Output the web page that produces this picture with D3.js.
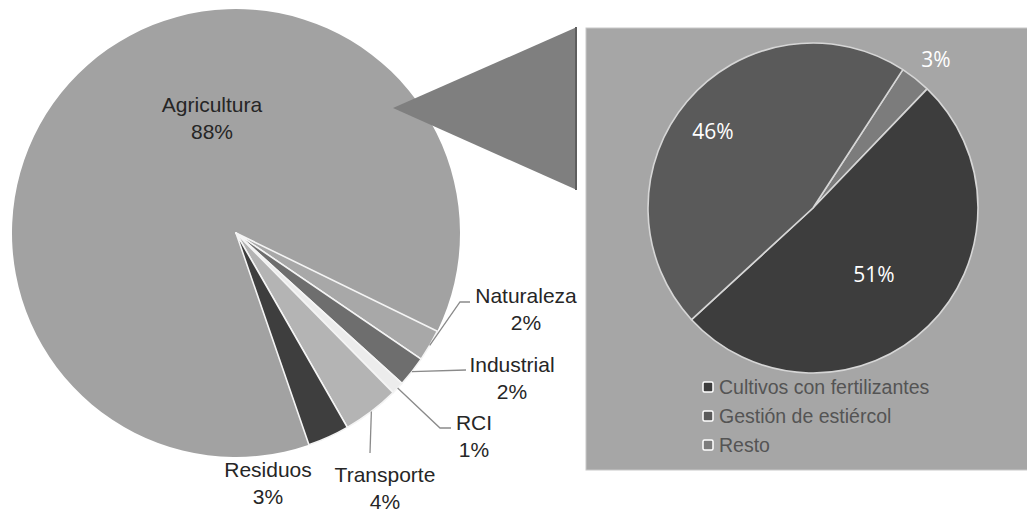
<!DOCTYPE html>
<html>
<meta charset="utf-8">
<title>Pie of pie</title>
<style>
html, body { margin: 0; background: #fff; }
svg { display: block; }
</style>
<svg></svg>
<script src="https://d3js.org/d3.v7.min.js"></script>
<script>

// main pie (share of emissions, %)
var sectors = ["Agricultura", "Naturaleza", "Industrial", "RCI", "Transporte", "Residuos"];
var sectorValues = [87.5, 2.3, 2.2, 0.9, 4.1, 3.0];
var sectorColors = ["#a2a2a2", "#a8a8a8", "#6e6e6e", "#ececec", "#b4b4b4", "#3e3e3e"];

// breakdown of agriculture
var agriParts = ["Resto", "Cultivos con fertilizantes", "Gestión de estiércol"];
var agriValues = [3, 51, 46];
var agriColors = ["#7c7c7c", "#3d3d3d", "#5a5a5a"];
var legendOrder = ["Cultivos con fertilizantes", "Gestión de estiércol", "Resto"];

var width = 1027, height = 513;
var svg = d3.select("svg").attr("width", width).attr("height", height);
var pct = d3.format(".0%");
var rad = function(a) { return a * Math.PI / 180; };

// ---- big pie
var cx = 236, cy = 233, r = 224;
var pie = d3.pie().sort(null).value(function(d) { return d.value; })
    .startAngle(rad(161)).endAngle(rad(161 + 360));
var data = sectors.map(function(s, i) { return {name: s, value: sectorValues[i], color: sectorColors[i]}; });
var arcs = pie(data);
var arc = d3.arc().innerRadius(0).outerRadius(r);

var g = svg.append("g").attr("transform", "translate(" + cx + "," + cy + ")");
g.selectAll("path.slice")
  .data(arcs)
  .enter().append("path")
    .attr("class", "slice")
    .attr("d", arc)
    .attr("fill", function(d) { return d.data.color; })
    .attr("stroke", function(d) { return d.index == 0 ? "none" : "#f4f4f4"; })
    .attr("stroke-width", 1.6)
    .attr("stroke-linejoin", "round");

// label positions, leader lines for small slices
var labelPos = {
  "Agricultura": {x: 212, y: 112},
  "Naturaleza": {x: 526, y: 303},
  "Industrial": {x: 512, y: 372},
  "RCI": {x: 474, y: 430},
  "Transporte": {x: 385, y: 482},
  "Residuos": {x: 268, y: 477}
};
var leaders = {
  "Naturaleza": [[460, 302], [470, 302]],
  "Industrial": [[466, 370]],
  "RCI": [[440, 428], [451, 428]],
  "Transporte": [[370, 453]]
};

arcs.forEach(function(d) {
  var L = leaders[d.data.name];
  if (!L) return;
  var a = (d.startAngle + d.endAngle) / 2;
  var pts = [[cx + r * Math.sin(a), cy - r * Math.cos(a)]].concat(L);
  svg.append("path")
    .attr("d", d3.line()(pts))
    .attr("fill", "none")
    .attr("stroke", "#8a8a8a")
    .attr("stroke-width", 1.3);
});

arcs.forEach(function(d) {
  var p = labelPos[d.data.name];
  var t = svg.append("text")
    .attr("x", p.x).attr("y", p.y)
    .attr("text-anchor", "middle")
    .attr("font-family", "Liberation Sans, Arial, sans-serif")
    .attr("font-size", 21)
    .attr("fill", "#262626");
  t.append("tspan").attr("x", p.x).text(d.data.name);
  t.append("tspan").attr("x", p.x).attr("dy", 27).text(pct(d.data.value / 100));
});

// ---- connector wedge
svg.append("path")
  .attr("d", d3.line()([[393, 108], [577, 27], [577, 190]]) + "Z")
  .attr("fill", "#7f7f7f");
svg.append("line")
  .attr("x1", 576).attr("x2", 576).attr("y1", 27).attr("y2", 190)
  .attr("stroke", "#5e5e5e").attr("stroke-width", 2);

// ---- second panel
svg.append("rect")
  .attr("x", 586).attr("y", 28).attr("width", 450).attr("height", 442)
  .attr("fill", "#a6a6a6")
  .attr("stroke", "#c8c8c8").attr("stroke-width", 1);

var cx2 = 813, cy2 = 208, r2 = 165;
var pie2 = d3.pie().sort(null).value(function(d) { return d.value; })
    .startAngle(rad(33)).endAngle(rad(33 + 360));
var data2 = agriParts.map(function(s, i) { return {name: s, value: agriValues[i], color: agriColors[i]}; });
var arcs2 = pie2(data2);
var arc2 = d3.arc().innerRadius(0).outerRadius(r2);

var g2 = svg.append("g").attr("transform", "translate(" + cx2 + "," + cy2 + ")");
g2.selectAll("path")
  .data(arcs2)
  .enter().append("path")
    .attr("d", arc2)
    .attr("fill", function(d) { return d.data.color; })
    .attr("stroke", "#d6d6d6")
    .attr("stroke-width", 1.6)
    .attr("stroke-linejoin", "round");

var label2 = {
  "Resto": [936, 67],
  "Cultivos con fertilizantes": [874, 282],
  "Gestión de estiércol": [713, 139]
};
arcs2.forEach(function(d) {
  var p = label2[d.data.name];
  svg.append("text")
    .attr("x", p[0]).attr("y", p[1])
    .attr("text-anchor", "middle")
    .attr("font-family", "Open Sans, DejaVu Sans, sans-serif")
    .attr("font-size", 21)
    .attr("fill", "#ffffff")
    .text(pct(d.data.value / 100));
});

// legend
var leg = svg.append("g");
legendOrder.forEach(function(name, i) {
  var k = agriParts.indexOf(name);
  var y = 387 + i * 29;
  leg.append("rect")
    .attr("x", 703).attr("y", y - 5).attr("width", 10).attr("height", 10)
    .attr("rx", 1.5)
    .attr("fill", agriColors[k])
    .attr("stroke", "#ffffff").attr("stroke-width", 1.5);
  leg.append("text")
    .attr("x", 719).attr("y", y + 7)
    .attr("font-family", "Liberation Sans, Arial, sans-serif")
    .attr("font-size", 19.5)
    .attr("fill", "#545454")
    .text(name);
});

</script>
</html>
